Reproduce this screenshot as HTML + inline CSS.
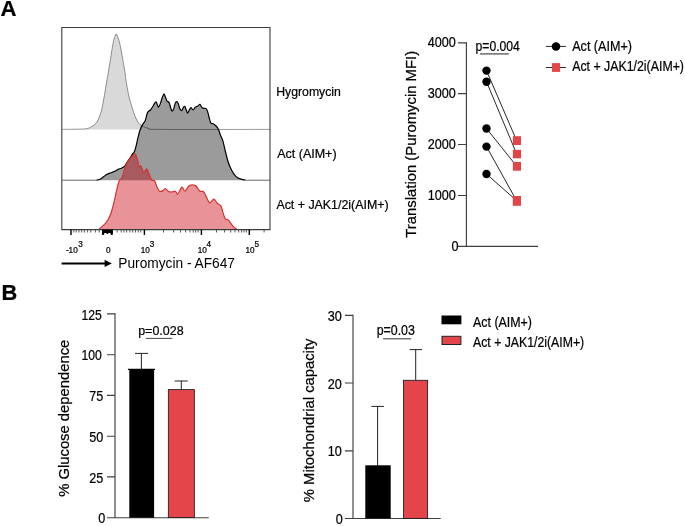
<!DOCTYPE html>
<html><head><meta charset="utf-8"><title>Figure</title>
<style>
html,body{margin:0;padding:0;background:#fff;}
svg{display:block;will-change:transform;font-family:"Liberation Sans",Arial,sans-serif;}
text{stroke:#000;stroke-width:0.22px;}
</style></head>
<body>
<svg width="685" height="526" viewBox="0 0 685 526">
<rect width="685" height="526" fill="#fff"/>
<g fill="#000">
<!-- Panel letters -->
<text x="0.6" y="16.2" font-size="22.2" font-weight="bold" textLength="16" lengthAdjust="spacingAndGlyphs">A</text>
<text x="1.5" y="300" font-size="21.8" font-weight="bold">B</text>

<!-- Histogram panel -->
<path d="M61.9,129.4 C65.0,129.3 81.0,129.3 85.0,128.9 C89.0,128.5 90.4,127.3 92.0,126.4 C93.6,125.5 95.8,124.0 97.0,122.0 C98.2,120.0 100.3,114.8 101.2,111.5 C102.1,108.2 103.2,101.7 104.0,97.5 C104.8,93.3 106.3,83.3 106.9,80.0 C107.5,76.7 107.6,77.1 108.3,72.6 C109.0,68.1 111.7,51.0 112.5,46.3 C113.3,41.6 114.0,39.1 114.5,37.5 C115.0,35.9 115.7,34.0 116.2,34.0 C116.7,34.0 117.4,35.9 118.0,37.5 C118.6,39.1 119.5,41.6 120.4,46.3 C121.3,51.0 124.3,68.1 125.0,72.6 C125.7,77.1 125.3,76.7 125.9,80.0 C126.5,83.3 128.2,93.3 129.2,97.5 C130.2,101.7 132.4,108.5 133.4,111.5 C134.4,114.5 135.9,118.4 136.9,120.3 C137.9,122.2 139.6,124.4 141.1,125.5 C142.6,126.6 145.8,127.7 148.1,128.2 C150.4,128.7 142.3,129.2 158.6,129.4 C174.9,129.6 255.1,129.4 270.0,129.4 Z" fill="#d9d9d9" stroke="none"/>
<path d="M96.4,180.2 C96.9,180.1 99.1,179.7 100.0,179.2 C100.9,178.7 102.6,177.4 103.5,176.8 C104.4,176.2 105.6,175.1 106.5,174.6 C107.4,174.1 108.9,173.5 110.0,173.1 C111.1,172.7 113.5,171.9 114.6,171.4 C115.7,170.9 117.6,169.5 118.5,169.1 C119.5,168.7 120.6,168.7 121.4,168.3 C122.2,167.9 124.0,167.0 124.8,166.2 C125.6,165.4 126.4,163.3 127.1,162.2 C127.8,161.1 129.2,159.3 130.0,158.2 C130.8,157.1 132.2,154.6 132.8,153.7 C133.4,152.8 134.0,152.5 134.5,151.4 C135.0,150.3 135.8,147.2 136.2,145.7 C136.6,144.2 137.1,141.5 137.4,140.0 C137.7,138.5 138.5,135.8 138.8,134.5 C139.1,133.2 139.5,131.6 140.0,130.3 C140.5,129.0 141.9,125.7 142.6,124.4 C143.3,123.1 144.7,122.0 145.3,120.5 C145.9,119.0 146.8,114.4 147.2,113.2 C147.6,112.0 148.1,111.7 148.5,111.3 C148.9,110.9 149.9,110.7 150.5,110.0 C151.1,109.3 152.4,107.1 153.1,106.0 C153.8,104.9 155.3,101.7 156.0,101.8 C156.7,101.9 157.8,106.9 158.4,107.1 C159.0,107.3 159.9,104.7 160.4,103.4 C160.9,102.1 161.8,98.8 162.3,97.5 C162.8,96.2 163.6,93.9 164.0,93.9 C164.4,93.9 165.2,96.6 165.6,97.5 C166.0,98.4 166.4,100.3 166.9,101.0 C167.4,101.7 168.7,101.7 169.2,102.7 C169.7,103.7 170.5,107.5 170.9,108.6 C171.3,109.7 171.6,110.9 171.9,111.0 C172.2,111.1 173.1,110.3 173.5,109.3 C173.9,108.3 174.8,104.4 175.2,103.4 C175.6,102.4 176.4,101.6 176.8,101.7 C177.2,101.8 178.0,103.2 178.4,104.1 C178.8,105.0 179.3,107.7 179.8,108.6 C180.3,109.5 181.3,110.8 181.8,110.6 C182.3,110.4 183.0,107.9 183.4,107.3 C183.8,106.7 184.6,106.1 184.9,106.4 C185.2,106.7 185.6,108.4 186.0,109.3 C186.4,110.2 187.2,113.1 187.6,113.2 C188.0,113.3 188.8,110.7 189.3,110.0 C189.8,109.3 190.5,107.6 191.0,107.6 C191.5,107.6 192.6,110.0 193.2,110.0 C193.8,110.0 194.6,107.8 195.2,107.3 C195.8,106.8 197.2,106.4 197.8,106.0 C198.4,105.6 199.5,104.2 200.0,104.4 C200.5,104.6 201.3,106.8 201.8,107.3 C202.3,107.8 203.1,108.2 203.7,108.4 C204.3,108.6 205.6,108.2 206.1,108.7 C206.6,109.2 207.3,110.7 207.7,111.9 C208.1,113.1 208.8,116.3 209.2,117.8 C209.6,119.3 210.4,122.3 210.9,123.1 C211.4,123.9 212.7,123.5 213.3,123.8 C213.9,124.1 214.9,125.0 215.5,125.5 C216.1,126.0 217.1,127.1 217.5,127.7 C217.9,128.3 218.4,129.3 218.8,130.3 C219.2,131.3 219.9,133.7 220.4,135.0 C220.9,136.3 222.0,138.3 222.7,140.4 C223.4,142.5 224.6,148.2 225.3,151.0 C226.0,153.8 227.2,159.0 228.0,161.5 C228.8,164.0 230.5,168.1 231.5,170.1 C232.5,172.1 234.6,175.1 235.8,176.3 C237.0,177.5 238.9,178.4 240.2,178.9 C241.5,179.4 244.8,180.1 245.5,180.2 Z" fill="#9b9b9b" stroke="none"/>
<path d="M61.9,129.4 C65.0,129.3 81.0,129.3 85.0,128.9 C89.0,128.5 90.4,127.3 92.0,126.4 C93.6,125.5 95.8,124.0 97.0,122.0 C98.2,120.0 100.3,114.8 101.2,111.5 C102.1,108.2 103.2,101.7 104.0,97.5 C104.8,93.3 106.3,83.3 106.9,80.0 C107.5,76.7 107.6,77.1 108.3,72.6 C109.0,68.1 111.7,51.0 112.5,46.3 C113.3,41.6 114.0,39.1 114.5,37.5 C115.0,35.9 115.7,34.0 116.2,34.0 C116.7,34.0 117.4,35.9 118.0,37.5 C118.6,39.1 119.5,41.6 120.4,46.3 C121.3,51.0 124.3,68.1 125.0,72.6 C125.7,77.1 125.3,76.7 125.9,80.0 C126.5,83.3 128.2,93.3 129.2,97.5 C130.2,101.7 132.4,108.5 133.4,111.5 C134.4,114.5 135.9,118.4 136.9,120.3 C137.9,122.2 139.6,124.4 141.1,125.5 C142.6,126.6 145.8,127.7 148.1,128.2 C150.4,128.7 142.3,129.2 158.6,129.4 C174.9,129.6 255.1,129.4 270.0,129.4" fill="none" stroke="#000" stroke-opacity="0.42" stroke-width="0.95"/>
<path d="M96.4,180.2 C96.9,180.1 99.1,179.7 100.0,179.2 C100.9,178.7 102.6,177.4 103.5,176.8 C104.4,176.2 105.6,175.1 106.5,174.6 C107.4,174.1 108.9,173.5 110.0,173.1 C111.1,172.7 113.5,171.9 114.6,171.4 C115.7,170.9 117.6,169.5 118.5,169.1 C119.5,168.7 120.6,168.7 121.4,168.3 C122.2,167.9 124.0,167.0 124.8,166.2 C125.6,165.4 126.4,163.3 127.1,162.2 C127.8,161.1 129.2,159.3 130.0,158.2 C130.8,157.1 132.2,154.6 132.8,153.7 C133.4,152.8 134.0,152.5 134.5,151.4 C135.0,150.3 135.8,147.2 136.2,145.7 C136.6,144.2 137.1,141.5 137.4,140.0 C137.7,138.5 138.5,135.8 138.8,134.5 C139.1,133.2 139.5,131.6 140.0,130.3 C140.5,129.0 141.9,125.7 142.6,124.4 C143.3,123.1 144.7,122.0 145.3,120.5 C145.9,119.0 146.8,114.4 147.2,113.2 C147.6,112.0 148.1,111.7 148.5,111.3 C148.9,110.9 149.9,110.7 150.5,110.0 C151.1,109.3 152.4,107.1 153.1,106.0 C153.8,104.9 155.3,101.7 156.0,101.8 C156.7,101.9 157.8,106.9 158.4,107.1 C159.0,107.3 159.9,104.7 160.4,103.4 C160.9,102.1 161.8,98.8 162.3,97.5 C162.8,96.2 163.6,93.9 164.0,93.9 C164.4,93.9 165.2,96.6 165.6,97.5 C166.0,98.4 166.4,100.3 166.9,101.0 C167.4,101.7 168.7,101.7 169.2,102.7 C169.7,103.7 170.5,107.5 170.9,108.6 C171.3,109.7 171.6,110.9 171.9,111.0 C172.2,111.1 173.1,110.3 173.5,109.3 C173.9,108.3 174.8,104.4 175.2,103.4 C175.6,102.4 176.4,101.6 176.8,101.7 C177.2,101.8 178.0,103.2 178.4,104.1 C178.8,105.0 179.3,107.7 179.8,108.6 C180.3,109.5 181.3,110.8 181.8,110.6 C182.3,110.4 183.0,107.9 183.4,107.3 C183.8,106.7 184.6,106.1 184.9,106.4 C185.2,106.7 185.6,108.4 186.0,109.3 C186.4,110.2 187.2,113.1 187.6,113.2 C188.0,113.3 188.8,110.7 189.3,110.0 C189.8,109.3 190.5,107.6 191.0,107.6 C191.5,107.6 192.6,110.0 193.2,110.0 C193.8,110.0 194.6,107.8 195.2,107.3 C195.8,106.8 197.2,106.4 197.8,106.0 C198.4,105.6 199.5,104.2 200.0,104.4 C200.5,104.6 201.3,106.8 201.8,107.3 C202.3,107.8 203.1,108.2 203.7,108.4 C204.3,108.6 205.6,108.2 206.1,108.7 C206.6,109.2 207.3,110.7 207.7,111.9 C208.1,113.1 208.8,116.3 209.2,117.8 C209.6,119.3 210.4,122.3 210.9,123.1 C211.4,123.9 212.7,123.5 213.3,123.8 C213.9,124.1 214.9,125.0 215.5,125.5 C216.1,126.0 217.1,127.1 217.5,127.7 C217.9,128.3 218.4,129.3 218.8,130.3 C219.2,131.3 219.9,133.7 220.4,135.0 C220.9,136.3 222.0,138.3 222.7,140.4 C223.4,142.5 224.6,148.2 225.3,151.0 C226.0,153.8 227.2,159.0 228.0,161.5 C228.8,164.0 230.5,168.1 231.5,170.1 C232.5,172.1 234.6,175.1 235.8,176.3 C237.0,177.5 238.9,178.4 240.2,178.9 C241.5,179.4 244.8,180.1 245.5,180.2" fill="none" stroke="#000" stroke-width="1.2" stroke-linejoin="round"/>
<path d="M61.9,180.2 L96.4,180.2" fill="none" stroke="#444" stroke-width="0.8"/>
<path d="M245.5,180.2 L270.0,180.2" fill="none" stroke="#444" stroke-width="0.8"/>
<clipPath id="ca"><path d="M96.4,180.2 C96.9,180.1 99.1,179.7 100.0,179.2 C100.9,178.7 102.6,177.4 103.5,176.8 C104.4,176.2 105.6,175.1 106.5,174.6 C107.4,174.1 108.9,173.5 110.0,173.1 C111.1,172.7 113.5,171.9 114.6,171.4 C115.7,170.9 117.6,169.5 118.5,169.1 C119.5,168.7 120.6,168.7 121.4,168.3 C122.2,167.9 124.0,167.0 124.8,166.2 C125.6,165.4 126.4,163.3 127.1,162.2 C127.8,161.1 129.2,159.3 130.0,158.2 C130.8,157.1 132.2,154.6 132.8,153.7 C133.4,152.8 134.0,152.5 134.5,151.4 C135.0,150.3 135.8,147.2 136.2,145.7 C136.6,144.2 137.1,141.5 137.4,140.0 C137.7,138.5 138.5,135.8 138.8,134.5 C139.1,133.2 139.5,131.6 140.0,130.3 C140.5,129.0 141.9,125.7 142.6,124.4 C143.3,123.1 144.7,122.0 145.3,120.5 C145.9,119.0 146.8,114.4 147.2,113.2 C147.6,112.0 148.1,111.7 148.5,111.3 C148.9,110.9 149.9,110.7 150.5,110.0 C151.1,109.3 152.4,107.1 153.1,106.0 C153.8,104.9 155.3,101.7 156.0,101.8 C156.7,101.9 157.8,106.9 158.4,107.1 C159.0,107.3 159.9,104.7 160.4,103.4 C160.9,102.1 161.8,98.8 162.3,97.5 C162.8,96.2 163.6,93.9 164.0,93.9 C164.4,93.9 165.2,96.6 165.6,97.5 C166.0,98.4 166.4,100.3 166.9,101.0 C167.4,101.7 168.7,101.7 169.2,102.7 C169.7,103.7 170.5,107.5 170.9,108.6 C171.3,109.7 171.6,110.9 171.9,111.0 C172.2,111.1 173.1,110.3 173.5,109.3 C173.9,108.3 174.8,104.4 175.2,103.4 C175.6,102.4 176.4,101.6 176.8,101.7 C177.2,101.8 178.0,103.2 178.4,104.1 C178.8,105.0 179.3,107.7 179.8,108.6 C180.3,109.5 181.3,110.8 181.8,110.6 C182.3,110.4 183.0,107.9 183.4,107.3 C183.8,106.7 184.6,106.1 184.9,106.4 C185.2,106.7 185.6,108.4 186.0,109.3 C186.4,110.2 187.2,113.1 187.6,113.2 C188.0,113.3 188.8,110.7 189.3,110.0 C189.8,109.3 190.5,107.6 191.0,107.6 C191.5,107.6 192.6,110.0 193.2,110.0 C193.8,110.0 194.6,107.8 195.2,107.3 C195.8,106.8 197.2,106.4 197.8,106.0 C198.4,105.6 199.5,104.2 200.0,104.4 C200.5,104.6 201.3,106.8 201.8,107.3 C202.3,107.8 203.1,108.2 203.7,108.4 C204.3,108.6 205.6,108.2 206.1,108.7 C206.6,109.2 207.3,110.7 207.7,111.9 C208.1,113.1 208.8,116.3 209.2,117.8 C209.6,119.3 210.4,122.3 210.9,123.1 C211.4,123.9 212.7,123.5 213.3,123.8 C213.9,124.1 214.9,125.0 215.5,125.5 C216.1,126.0 217.1,127.1 217.5,127.7 C217.9,128.3 218.4,129.3 218.8,130.3 C219.2,131.3 219.9,133.7 220.4,135.0 C220.9,136.3 222.0,138.3 222.7,140.4 C223.4,142.5 224.6,148.2 225.3,151.0 C226.0,153.8 227.2,159.0 228.0,161.5 C228.8,164.0 230.5,168.1 231.5,170.1 C232.5,172.1 234.6,175.1 235.8,176.3 C237.0,177.5 238.9,178.4 240.2,178.9 C241.5,179.4 244.8,180.1 245.5,180.2 Z"/></clipPath>
<path d="M98.7,229.6 C99.7,228.7 104.5,224.7 106.1,222.7 C107.7,220.7 109.4,217.5 110.4,214.8 C111.4,212.1 113.1,205.9 113.9,202.6 C114.7,199.3 115.9,193.2 116.6,190.3 C117.3,187.4 118.5,182.3 119.2,180.7 C119.9,179.1 121.1,179.5 121.8,178.0 C122.5,176.5 123.7,171.5 124.5,169.3 C125.3,167.1 127.0,163.2 128.0,161.4 C129.0,159.6 131.4,157.1 132.3,156.1 C133.2,155.1 134.4,153.8 135.0,153.9 C135.6,154.0 136.1,155.3 136.7,157.0 C137.3,158.7 138.8,165.4 139.4,166.6 C140.0,167.8 140.5,165.3 141.1,166.1 C141.7,166.9 143.0,172.0 143.7,172.4 C144.4,172.8 146.0,168.7 146.7,168.9 C147.4,169.1 148.3,172.2 149.0,173.7 C149.7,175.2 150.9,179.2 151.6,180.1 C152.3,181.0 153.9,179.8 154.6,180.7 C155.3,181.6 156.2,185.4 156.9,186.8 C157.6,188.2 158.7,190.7 159.5,191.2 C160.3,191.7 162.2,191.0 163.0,190.6 C163.8,190.2 164.6,188.4 165.3,188.5 C166.0,188.6 167.5,191.0 168.4,191.5 C169.3,192.0 171.0,192.0 171.9,192.0 C172.8,192.0 174.6,190.9 175.4,191.2 C176.2,191.5 176.8,194.6 177.7,194.1 C178.6,193.6 180.9,187.5 181.9,187.1 C182.9,186.7 184.0,191.4 185.0,191.2 C186.0,191.0 188.0,186.3 189.4,185.6 C190.8,184.9 194.1,184.9 195.5,185.6 C196.9,186.3 198.8,190.4 199.9,191.2 C201.0,192.0 202.6,190.8 203.4,191.5 C204.2,192.2 205.3,194.9 206.1,196.4 C206.9,197.9 208.6,202.5 209.6,202.9 C210.6,203.3 212.9,199.0 213.9,199.1 C214.9,199.2 216.5,202.5 217.4,203.4 C218.3,204.3 220.2,204.6 221.0,206.1 C221.8,207.6 223.0,213.1 223.6,214.8 C224.2,216.5 225.0,218.5 225.7,219.2 C226.4,219.9 227.6,219.3 228.5,220.1 C229.4,220.9 231.3,224.1 232.3,225.3 C233.3,226.5 235.1,228.2 235.8,228.8 C236.5,229.4 237.4,229.5 237.6,229.6 Z" fill="#d02832" fill-opacity="0.5" stroke="none"/>
<path d="M98.7,229.6 C99.7,228.7 104.5,224.7 106.1,222.7 C107.7,220.7 109.4,217.5 110.4,214.8 C111.4,212.1 113.1,205.9 113.9,202.6 C114.7,199.3 115.9,193.2 116.6,190.3 C117.3,187.4 118.5,182.3 119.2,180.7 C119.9,179.1 121.1,179.5 121.8,178.0 C122.5,176.5 123.7,171.5 124.5,169.3 C125.3,167.1 127.0,163.2 128.0,161.4 C129.0,159.6 131.4,157.1 132.3,156.1 C133.2,155.1 134.4,153.8 135.0,153.9 C135.6,154.0 136.1,155.3 136.7,157.0 C137.3,158.7 138.8,165.4 139.4,166.6 C140.0,167.8 140.5,165.3 141.1,166.1 C141.7,166.9 143.0,172.0 143.7,172.4 C144.4,172.8 146.0,168.7 146.7,168.9 C147.4,169.1 148.3,172.2 149.0,173.7 C149.7,175.2 150.9,179.2 151.6,180.1 C152.3,181.0 153.9,179.8 154.6,180.7 C155.3,181.6 156.2,185.4 156.9,186.8 C157.6,188.2 158.7,190.7 159.5,191.2 C160.3,191.7 162.2,191.0 163.0,190.6 C163.8,190.2 164.6,188.4 165.3,188.5 C166.0,188.6 167.5,191.0 168.4,191.5 C169.3,192.0 171.0,192.0 171.9,192.0 C172.8,192.0 174.6,190.9 175.4,191.2 C176.2,191.5 176.8,194.6 177.7,194.1 C178.6,193.6 180.9,187.5 181.9,187.1 C182.9,186.7 184.0,191.4 185.0,191.2 C186.0,191.0 188.0,186.3 189.4,185.6 C190.8,184.9 194.1,184.9 195.5,185.6 C196.9,186.3 198.8,190.4 199.9,191.2 C201.0,192.0 202.6,190.8 203.4,191.5 C204.2,192.2 205.3,194.9 206.1,196.4 C206.9,197.9 208.6,202.5 209.6,202.9 C210.6,203.3 212.9,199.0 213.9,199.1 C214.9,199.2 216.5,202.5 217.4,203.4 C218.3,204.3 220.2,204.6 221.0,206.1 C221.8,207.6 223.0,213.1 223.6,214.8 C224.2,216.5 225.0,218.5 225.7,219.2 C226.4,219.9 227.6,219.3 228.5,220.1 C229.4,220.9 231.3,224.1 232.3,225.3 C233.3,226.5 235.1,228.2 235.8,228.8 C236.5,229.4 237.4,229.5 237.6,229.6 Z" fill="#000" fill-opacity="0.07" stroke="none" clip-path="url(#ca)"/>
<path d="M98.7,229.6 C99.7,228.7 104.5,224.7 106.1,222.7 C107.7,220.7 109.4,217.5 110.4,214.8 C111.4,212.1 113.1,205.9 113.9,202.6 C114.7,199.3 115.9,193.2 116.6,190.3 C117.3,187.4 118.5,182.3 119.2,180.7 C119.9,179.1 121.1,179.5 121.8,178.0 C122.5,176.5 123.7,171.5 124.5,169.3 C125.3,167.1 127.0,163.2 128.0,161.4 C129.0,159.6 131.4,157.1 132.3,156.1 C133.2,155.1 134.4,153.8 135.0,153.9 C135.6,154.0 136.1,155.3 136.7,157.0 C137.3,158.7 138.8,165.4 139.4,166.6 C140.0,167.8 140.5,165.3 141.1,166.1 C141.7,166.9 143.0,172.0 143.7,172.4 C144.4,172.8 146.0,168.7 146.7,168.9 C147.4,169.1 148.3,172.2 149.0,173.7 C149.7,175.2 150.9,179.2 151.6,180.1 C152.3,181.0 153.9,179.8 154.6,180.7 C155.3,181.6 156.2,185.4 156.9,186.8 C157.6,188.2 158.7,190.7 159.5,191.2 C160.3,191.7 162.2,191.0 163.0,190.6 C163.8,190.2 164.6,188.4 165.3,188.5 C166.0,188.6 167.5,191.0 168.4,191.5 C169.3,192.0 171.0,192.0 171.9,192.0 C172.8,192.0 174.6,190.9 175.4,191.2 C176.2,191.5 176.8,194.6 177.7,194.1 C178.6,193.6 180.9,187.5 181.9,187.1 C182.9,186.7 184.0,191.4 185.0,191.2 C186.0,191.0 188.0,186.3 189.4,185.6 C190.8,184.9 194.1,184.9 195.5,185.6 C196.9,186.3 198.8,190.4 199.9,191.2 C201.0,192.0 202.6,190.8 203.4,191.5 C204.2,192.2 205.3,194.9 206.1,196.4 C206.9,197.9 208.6,202.5 209.6,202.9 C210.6,203.3 212.9,199.0 213.9,199.1 C214.9,199.2 216.5,202.5 217.4,203.4 C218.3,204.3 220.2,204.6 221.0,206.1 C221.8,207.6 223.0,213.1 223.6,214.8 C224.2,216.5 225.0,218.5 225.7,219.2 C226.4,219.9 227.6,219.3 228.5,220.1 C229.4,220.9 231.3,224.1 232.3,225.3 C233.3,226.5 235.1,228.2 235.8,228.8 C236.5,229.4 237.4,229.5 237.6,229.6" fill="none" stroke="#d8332f" stroke-width="1.2" stroke-linejoin="round"/>
<path d="M61.8,27.5 H270 V229.6 H61.8 Z" fill="none" stroke="#3c3c3c" stroke-width="1.1"/>
<rect x="102.0" y="229.6" width="10.8" height="3.4" fill="#000"/><rect x="102.0" y="229.6" width="2.2" height="5.3" fill="#000"/><rect x="110.6" y="229.6" width="2.2" height="5.3" fill="#000"/><rect x="106.6" y="229.6" width="1.6" height="4.4" fill="#000"/>
<line x1="71.00" y1="229.6" x2="71.00" y2="234.9" stroke="#000" stroke-width="1.4"/><line x1="144.40" y1="229.6" x2="144.40" y2="234.9" stroke="#000" stroke-width="1.4"/><line x1="201.40" y1="229.6" x2="201.40" y2="234.9" stroke="#000" stroke-width="1.4"/><line x1="249.30" y1="229.6" x2="249.30" y2="234.9" stroke="#000" stroke-width="1.4"/><line x1="73.80" y1="229.6" x2="73.80" y2="232.5" stroke="#444" stroke-width="0.9"/><line x1="76.20" y1="229.6" x2="76.20" y2="232.5" stroke="#444" stroke-width="0.9"/><line x1="78.95" y1="229.6" x2="78.95" y2="232.5" stroke="#444" stroke-width="0.9"/><line x1="81.70" y1="229.6" x2="81.70" y2="232.5" stroke="#444" stroke-width="0.9"/><line x1="84.40" y1="229.6" x2="84.40" y2="232.5" stroke="#444" stroke-width="0.9"/><line x1="87.60" y1="229.6" x2="87.60" y2="232.5" stroke="#444" stroke-width="0.9"/><line x1="90.80" y1="229.6" x2="90.80" y2="232.5" stroke="#444" stroke-width="0.9"/><line x1="95.40" y1="229.6" x2="95.40" y2="232.5" stroke="#444" stroke-width="0.9"/><line x1="99.20" y1="229.6" x2="99.20" y2="232.5" stroke="#444" stroke-width="0.9"/><line x1="117.10" y1="229.6" x2="117.10" y2="232.5" stroke="#444" stroke-width="0.9"/><line x1="121.20" y1="229.6" x2="121.20" y2="232.5" stroke="#444" stroke-width="0.9"/><line x1="124.00" y1="229.6" x2="124.00" y2="232.5" stroke="#444" stroke-width="0.9"/><line x1="126.60" y1="229.6" x2="126.60" y2="232.5" stroke="#444" stroke-width="0.9"/><line x1="129.85" y1="229.6" x2="129.85" y2="232.5" stroke="#444" stroke-width="0.9"/><line x1="132.70" y1="229.6" x2="132.70" y2="232.5" stroke="#444" stroke-width="0.9"/><line x1="135.50" y1="229.6" x2="135.50" y2="232.5" stroke="#444" stroke-width="0.9"/><line x1="138.20" y1="229.6" x2="138.20" y2="232.5" stroke="#444" stroke-width="0.9"/><line x1="140.80" y1="229.6" x2="140.80" y2="232.5" stroke="#444" stroke-width="0.9"/><line x1="163.50" y1="229.6" x2="163.50" y2="232.5" stroke="#444" stroke-width="0.9"/><line x1="173.65" y1="229.6" x2="173.65" y2="232.5" stroke="#444" stroke-width="0.9"/><line x1="180.55" y1="229.6" x2="180.55" y2="232.5" stroke="#444" stroke-width="0.9"/><line x1="185.70" y1="229.6" x2="185.70" y2="232.5" stroke="#444" stroke-width="0.9"/><line x1="190.00" y1="229.6" x2="190.00" y2="232.5" stroke="#444" stroke-width="0.9"/><line x1="193.20" y1="229.6" x2="193.20" y2="232.5" stroke="#444" stroke-width="0.9"/><line x1="195.65" y1="229.6" x2="195.65" y2="232.5" stroke="#444" stroke-width="0.9"/><line x1="198.10" y1="229.6" x2="198.10" y2="232.5" stroke="#444" stroke-width="0.9"/><line x1="216.50" y1="229.6" x2="216.50" y2="232.5" stroke="#444" stroke-width="0.9"/><line x1="224.60" y1="229.6" x2="224.60" y2="232.5" stroke="#444" stroke-width="0.9"/><line x1="230.70" y1="229.6" x2="230.70" y2="232.5" stroke="#444" stroke-width="0.9"/><line x1="235.00" y1="229.6" x2="235.00" y2="232.5" stroke="#444" stroke-width="0.9"/><line x1="238.70" y1="229.6" x2="238.70" y2="232.5" stroke="#444" stroke-width="0.9"/><line x1="241.60" y1="229.6" x2="241.60" y2="232.5" stroke="#444" stroke-width="0.9"/><line x1="244.10" y1="229.6" x2="244.10" y2="232.5" stroke="#444" stroke-width="0.9"/><line x1="246.40" y1="229.6" x2="246.40" y2="232.5" stroke="#444" stroke-width="0.9"/><line x1="264.10" y1="229.6" x2="264.10" y2="232.5" stroke="#444" stroke-width="0.9"/>
<g font-size="8.2">
<text x="65.9" y="252.6">-10</text><text x="78.3" y="246.5">3</text>
<text x="105.9" y="252.6">0</text>
<text x="140.8" y="252.6">10</text><text x="149.7" y="246.5">3</text>
<text x="197.7" y="252.6">10</text><text x="206.6" y="246.5">4</text>
<text x="245.4" y="252.6">10</text><text x="254.5" y="246.5">5</text>
</g>
<line x1="61.6" y1="263.4" x2="106" y2="263.4" stroke="#000" stroke-width="2"/>
<path d="M104.6,259.7 L111.8,263.4 L104.6,267.1 Z"/>
<text x="118.30" y="268.4" font-size="14" style="stroke:none" textLength="116.70" lengthAdjust="spacingAndGlyphs">Puromycin - AF647</text>
<text x="276.20" y="96.0" font-size="13.2" textLength="64.70" lengthAdjust="spacingAndGlyphs">Hygromycin</text>
<text x="277.20" y="157.7" font-size="13.2" textLength="59.40" lengthAdjust="spacingAndGlyphs">Act (AIM+)</text>
<text x="276.40" y="209.2" font-size="13.2" textLength="112.20" lengthAdjust="spacingAndGlyphs">Act + JAK1/2i(AIM+)</text>

<!-- Paired plot -->
<g stroke="#404040" stroke-width="1.15" fill="none">
<path d="M466.4,42.3 V247 M458,246.4 H538"/>
<path d="M458,42.9 H466.4 M458,93.6 H466.4 M458,144.5 H466.4 M458,195.5 H466.4"/>
</g>
<g font-size="14.2" text-anchor="end">
<text transform="translate(455.9,46.9) scale(0.89,1)">4000</text>
<text transform="translate(455.9,97.6) scale(0.89,1)">3000</text>
<text transform="translate(455.9,148.5) scale(0.89,1)">2000</text>
<text transform="translate(455.9,199.5) scale(0.89,1)">1000</text>
<text transform="translate(458.5,250.7) scale(0.89,1)">0</text>
</g>
<text transform="translate(416.4,237.70) rotate(-90)" font-size="14.5" textLength="186.80" lengthAdjust="spacingAndGlyphs">Translation (Puromycin MFI)</text>
<g stroke="#111" stroke-width="0.9">
<line x1="486.5" y1="70.6" x2="516.6" y2="140.5"/>
<line x1="486.5" y1="81.7" x2="516.6" y2="153.8"/>
<line x1="486.5" y1="128.5" x2="516.6" y2="166.1"/>
<line x1="486.5" y1="146.6" x2="516.6" y2="200.7"/>
<line x1="486.5" y1="174" x2="516.6" y2="200.7"/>
</g>
<circle cx="486.5" cy="70.6" r="4.2"/><circle cx="486.5" cy="81.7" r="4.2"/><circle cx="486.5" cy="128.5" r="4.2"/><circle cx="486.5" cy="146.6" r="4.2"/><circle cx="486.5" cy="174" r="4.2"/>
<g fill="#e4454a">
<rect x="512.9" y="136.2" width="8.1" height="8.8"/><rect x="512.9" y="149.8" width="8.1" height="8.5"/><rect x="512.9" y="161.9" width="8.1" height="8.8"/><rect x="512.8" y="196" width="8.2" height="9.8"/>
</g>
<text x="475.50" y="50.9" font-size="14.2" textLength="44.40" lengthAdjust="spacingAndGlyphs">p=0.004</text>
<line x1="480" y1="53.9" x2="508.8" y2="53.9" stroke="#555" stroke-width="1.3"/>
<!-- legend top -->
<line x1="546" y1="46.4" x2="565.9" y2="46.4" stroke="#111" stroke-width="0.9"/>
<circle cx="556" cy="46.6" r="4.25"/>
<line x1="546" y1="67.5" x2="565.9" y2="67.5" stroke="#111" stroke-width="0.9"/>
<rect x="552" y="63.1" width="8.1" height="8.8" fill="#e4454a"/>
<text x="572.20" y="50.8" font-size="14.2" textLength="59.80" lengthAdjust="spacingAndGlyphs">Act (AIM+)</text>
<text x="572.20" y="71.3" font-size="14.2" textLength="111.80" lengthAdjust="spacingAndGlyphs">Act + JAK1/2i(AIM+)</text>

<!-- Bar chart 1 -->
<g stroke="#404040" stroke-width="1.15" fill="none">
<path d="M115,313.3 V517.7 M107,517.7 H208.8"/>
<path d="M107,313.9 H115 M107,354.7 H115 M107,395.4 H115 M107,436.2 H115 M107,476.9 H115"/>
</g>
<g font-size="14.2" text-anchor="end">
<text transform="translate(101.9,319.7) scale(0.86,1)">125</text>
<text transform="translate(101.9,360.4) scale(0.86,1)">100</text>
<text transform="translate(103.2,401.1) scale(0.89,1)">75</text>
<text transform="translate(103.2,441.9) scale(0.89,1)">50</text>
<text transform="translate(103.2,482.6) scale(0.89,1)">25</text>
<text transform="translate(105.2,523.2) scale(0.89,1)">0</text>
</g>
<text transform="translate(68.6,496.80) rotate(-90)" font-size="14.5" textLength="157.10" lengthAdjust="spacingAndGlyphs">% Glucose dependence</text>
<g stroke="#222" stroke-width="1" fill="none">
<path d="M141.4,369.1 V353.4 M135,353.4 H148"/>
<path d="M181.3,389.2 V381 M174.7,381 H187.7"/>
</g>
<rect x="129.3" y="369.1" width="24.8" height="148.6"/>
<line x1="127.9" y1="369.4" x2="155" y2="369.4" stroke="#000" stroke-width="1.3"/>
<rect x="168.35" y="389.6" width="26" height="127.9" fill="#e4454a" stroke="#1c1c1c" stroke-width="0.85"/>
<text x="138.20" y="334.6" font-size="13.7" textLength="45.40" lengthAdjust="spacingAndGlyphs">p=0.028</text>
<line x1="145.8" y1="338.4" x2="172.3" y2="338.4" stroke="#333" stroke-width="0.9"/>

<!-- Bar chart 2 -->
<g stroke="#404040" stroke-width="1.15" fill="none">
<path d="M353,314.7 V518.5 M344.9,518.5 H440.7"/>
<path d="M344.9,315.3 H353 M344.9,383 H353 M344.9,450.85 H353"/>
</g>
<g font-size="14.2" text-anchor="end">
<text transform="translate(341.7,320.9) scale(0.89,1)">30</text>
<text transform="translate(341.7,388.6) scale(0.89,1)">20</text>
<text transform="translate(341.7,456.4) scale(0.89,1)">10</text>
<text transform="translate(342.7,524.2) scale(0.89,1)">0</text>
</g>
<text transform="translate(314.0,502.20) rotate(-90)" font-size="14.5" textLength="163.60" lengthAdjust="spacingAndGlyphs">% Mitochondrial capacity</text>
<g stroke="#222" stroke-width="1" fill="none">
<path d="M377.6,465.6 V406.4 M371.3,406.4 H383.9"/>
<path d="M415.7,379.9 V349.6 M409.6,349.6 H422"/>
</g>
<rect x="365.3" y="465.3" width="25.4" height="53.2"/>
<rect x="403.5" y="380.3" width="24.1" height="138.1" fill="#e4454a" stroke="#1c1c1c" stroke-width="0.85"/>
<text x="376.70" y="334.8" font-size="14.2" textLength="38.20" lengthAdjust="spacingAndGlyphs">p=0.03</text>
<line x1="383.1" y1="338.8" x2="411.1" y2="338.8" stroke="#444" stroke-width="1.1"/>
<!-- legend bottom -->
<rect x="441.5" y="315.5" width="19.9" height="8.8"/>
<rect x="442" y="336.3" width="18.9" height="8.2" fill="#e4454a" stroke="#222" stroke-width="1"/>
<text x="473.00" y="326.7" font-size="14.2" textLength="59.00" lengthAdjust="spacingAndGlyphs">Act (AIM+)</text>
<text x="473.00" y="346.8" font-size="14.2" textLength="111.20" lengthAdjust="spacingAndGlyphs">Act + JAK1/2i(AIM+)</text>
</g>
</svg>
</body></html>
